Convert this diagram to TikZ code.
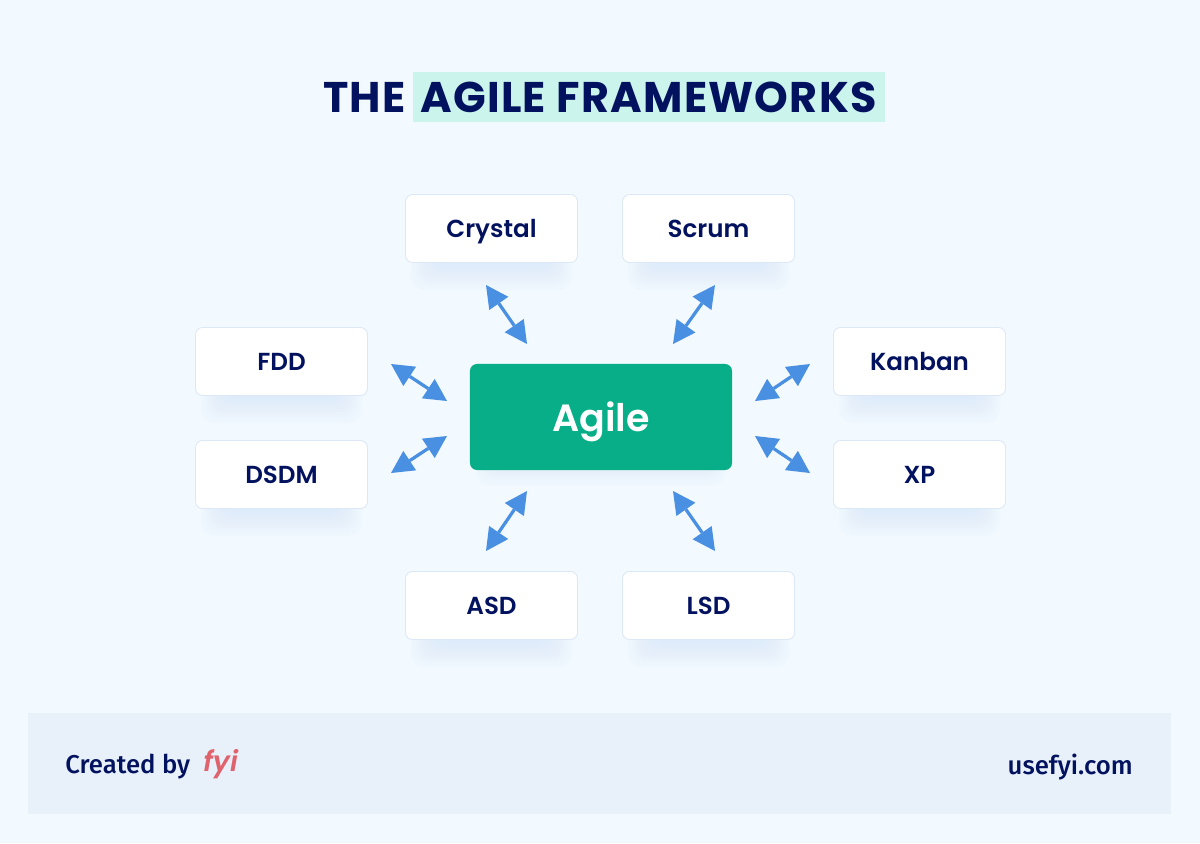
\documentclass[tikz,border=0pt]{standalone}
\usepackage{fontspec}
\setmainfont{Poppins}
\newfontfamily\semifont{Poppins SemiBold}
\newfontfamily\titlefont[LetterSpace=3]{Poppins}
\newfontfamily\footfont{Fira Sans Medium}
\usetikzlibrary{arrows.meta,positioning}

\definecolor{pagebg}{HTML}{F2F9FF}
\definecolor{footbg}{HTML}{E8F1FA}
\definecolor{navy}{HTML}{03125F}
\definecolor{mint}{HTML}{CBF4EC}
\definecolor{cardline}{HTML}{DCE8F6}
\definecolor{agilegreen}{HTML}{08AE88}
\definecolor{arrowblue}{HTML}{4A90E2}
\definecolor{fyired}{HTML}{E0626C}
\definecolor{shadowblue}{HTML}{B8D6FA}

\tikzset{
    card/.style={draw=cardline, line width=0.6pt, fill=white, rounded corners=5pt,
        minimum width=4.3cm, minimum height=1.7cm, inner sep=0pt, text=navy,
        text height=12.5pt, text depth=0pt,
        font=\semifont\fontsize{17.5}{20}\selectfont},
    twoway/.style={{Triangle[length=0.56cm,width=0.58cm,line width=0pt]}-{Triangle[length=0.56cm,width=0.58cm,line width=0pt]},
        draw=arrowblue, fill=arrowblue, line width=2.3pt},
    titletext/.style={text=navy, inner sep=0pt, font=\titlefont\bfseries\fontsize{30.5}{36}\selectfont},
    foottext/.style={text=navy, inner sep=0pt, font=\footfont\fontsize{18.3}{22}\selectfont}
}

% soft shadow below a card, centre given in pixels
\newcommand{\softshadow}[4]{%
    \foreach \s in {0,...,9}{
        \fill[shadowblue, opacity=0.035, rounded corners=9pt]
            (#1-#3/2+6+\s*2.5, #2+#4/2+27-\s*2.7) rectangle (#1+#3/2-6-\s*2.5, #2);
    }
}

\begin{document}
\begin{tikzpicture}[x=0.025cm, y=-0.025cm]
    \useasboundingbox (0,0) rectangle (1200,843);
    \fill[pagebg] (0,0) rectangle (1200,843);

    % title
    \node[fill=mint, minimum width=11.8cm, minimum height=1.25cm, inner sep=0pt] (titlebox) at (649,97) {};
    \node[titletext] (agiletitle) at (648.5,97) {AGILE FRAMEWORKS};
    \node[titletext, left=0.35cm of agiletitle] (thetitle) {THE};

    % shadows
    \softshadow{491.5}{228.5}{173}{69}
    \softshadow{708.5}{228.5}{173}{69}
    \softshadow{281.5}{361.5}{173}{69}
    \softshadow{919.5}{361.5}{173}{69}
    \softshadow{281.5}{474.5}{173}{69}
    \softshadow{919.5}{474.5}{173}{69}
    \softshadow{491.5}{605.5}{173}{69}
    \softshadow{708.5}{605.5}{173}{69}
    \softshadow{601}{405}{262}{106}

    % frameworks
    \node[card] (crystal) at (491.5,228.5) {Crystal};
    \node[card] (scrum) at (708.5,228.5) {Scrum};
    \node[card] (fdd) at (281.5,361.5) {FDD};
    \node[card] (kanban) at (919.5,361.5) {Kanban};
    \node[card] (dsdm) at (281.5,474.5) {DSDM};
    \node[card] (xp) at (919.5,474.5) {XP};
    \node[card] (asd) at (491.5,605.5) {ASD};
    \node[card] (lsd) at (708.5,605.5) {LSD};
    \node[fill=agilegreen, rounded corners=5pt, minimum width=6.55cm, minimum height=2.65cm,
        inner sep=0pt, text=white, text height=20pt, text depth=0pt,
        font=\semifont\fontsize{27}{32}\selectfont] (agile) at (601,417) {Agile};

    % arrow ends
    \coordinate (crystalA) at (486,285); \coordinate (crystalB) at (527,344);
    \coordinate (scrumA) at (715,285); \coordinate (scrumB) at (673,344);
    \coordinate (fddA) at (391,364); \coordinate (fddB) at (447,401);
    \coordinate (kanbanA) at (810,364); \coordinate (kanbanB) at (755,401);
    \coordinate (dsdmA) at (391,473); \coordinate (dsdmB) at (447,436);
    \coordinate (xpA) at (810,473); \coordinate (xpB) at (755,436);
    \coordinate (asdA) at (486,551); \coordinate (asdB) at (527,491);
    \coordinate (lsdA) at (715,551); \coordinate (lsdB) at (673,491);
    \foreach \n in {crystal,scrum,fdd,kanban,dsdm,xp,asd,lsd}{
        \draw[twoway] (\n A) -- (\n B);
    }

    % footer
    \fill[footbg] (28,713) rectangle (1171,814);
    \node[foottext, anchor=west] (createdby) at (65,767) {Created by};
    \node[text=fyired, inner sep=0pt, anchor=west, font=\semifont\itshape\fontsize{20}{24}\selectfont] (fyilogo) at (203,764) {fyi};
    \node[foottext, anchor=east] (website) at (1133,767) {usefyi.com};
\end{tikzpicture}
\end{document}
